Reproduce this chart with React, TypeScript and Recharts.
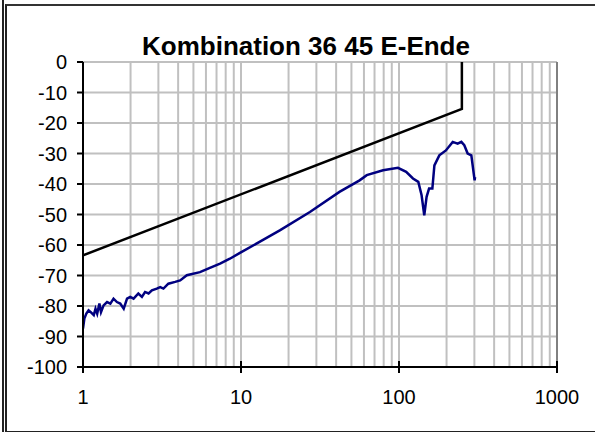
import { LineChart, Line, XAxis, YAxis, CartesianGrid, ReferenceLine } from "recharts";

const FONT = "'Liberation Sans', Arial, sans-serif";

// measured curve (blue)
const measFreq = [
  1, 1.02, 1.05, 1.085, 1.12, 1.17, 1.2, 1.23, 1.27, 1.3, 1.35, 1.42, 1.49, 1.56, 1.64, 1.72,
  1.81, 1.9, 1.99, 2.09, 2.24, 2.36, 2.47, 2.6, 2.73, 2.93, 3.08, 3.23, 3.47, 3.83, 4.12, 4.54,
  5.5, 6.3, 7.37, 8.5, 9.85, 13.1, 17.6, 27.3, 42, 56.3, 62.5, 79.3, 98.5, 111, 122.6, 132.5,
  139, 144.5, 149.5, 155, 162.6, 167.5, 180, 198, 218.8, 235, 248, 259, 272, 287, 301, 303,
];
const measLevel = [
  -87.4, -84.1, -82.5, -81.4, -82, -83, -80.9, -82.5, -79.2, -82, -79.8, -78.7, -79.2, -77.6, -78.7, -79.2,
  -80.9, -77.6, -77, -77.6, -75.9, -77, -75.4, -75.9, -74.9, -74.3, -73.8, -74.3, -72.7, -72.1, -71.6, -69.9,
  -68.9, -67.6, -66.1, -64.5, -62.6, -59, -55.2, -49.2, -42.6, -38.8, -37.1, -35.5, -34.7, -36, -38.2, -39.3,
  -43.7, -50.3, -44.2, -41.5, -41.5, -33.9, -30.6, -29, -26.2, -26.8, -26.2, -27.3, -30, -30.6, -38.8, -37.7,
];

// limit curve (black)
const limitFreq = [1, 250, 250];
const limitLevel = [-63.4, -15.4, 0];

const yTicks = [-100, -90, -80, -70, -60, -50, -40, -30, -20, -10, 0];
const decades = [1, 10, 100, 1000];
const minorTicks = [
  1, 2, 3, 4, 5, 6, 7, 8, 9,
  10, 20, 30, 40, 50, 60, 70, 80, 90,
  100, 200, 300, 400, 500, 600, 700, 800, 900, 1000,
];

const measData = measFreq.map((f, i) => ({ f, v: measLevel[i] }));
const limitData = limitFreq.map((f, i) => ({ f, v: limitLevel[i] }));

function XTick(props: any) {
  const { x, y, payload } = props;
  if (!decades.includes(payload.value)) return <g />;
  return (
    <g>
      <line x1={x} x2={x} y1={y - 6} y2={y + 6} stroke="#000" strokeWidth={2} />
      <text
        x={x}
        y={y + 30}
        textAnchor="middle"
        dominantBaseline="central"
        fontSize={20}
        fontFamily={FONT}
        fill="#000"
      >
        {payload.value}
      </text>
    </g>
  );
}

export default function App() {
  return (
    <div style={{ position: "absolute", left: 0, top: 0, width: 595, height: 432, background: "#fff" }}>
      {/* frame */}
      <div style={{ position: "absolute", left: 2, top: 0, width: 2, height: 432, background: "#222" }} />
      <div
        style={{
          position: "absolute",
          left: 5,
          top: 4,
          width: 590,
          height: 425,
          borderLeft: "2px solid #222",
          borderTop: "2px solid #333",
          borderBottom: "2px solid #222",
        }}
      />
      <div
        style={{
          position: "absolute",
          left: 0,
          top: 33,
          width: 612,
          textAlign: "center",
          fontFamily: FONT,
          fontWeight: "bold",
          fontSize: 26,
          lineHeight: "26px",
          color: "#000",
        }}
      >
        Kombination 36 45 E-Ende
      </div>
      <div style={{ position: "absolute", left: 0, top: 0 }}>
        <LineChart width={595} height={432} margin={{ top: 62, right: 38, bottom: 0, left: 0 }}>
          <CartesianGrid
            stroke="#c0c0c0"
            strokeWidth={2}
            horizontal={{ stroke: "#c0c0c0", strokeWidth: 2 }}
            vertical={{ stroke: "#c0c0c0", strokeWidth: 2 }}
          />
          <XAxis
            dataKey="f"
            type="number"
            scale="log"
            domain={[1, 1000]}
            allowDataOverflow
            ticks={minorTicks}
            interval={0}
            height={65}
            tickSize={0}
            tickMargin={0}
            tickLine={false}
            tick={<XTick />}
            axisLine={{ stroke: "#000", strokeWidth: 2 }}
          />
          <YAxis
            type="number"
            domain={[-100, 0]}
            ticks={yTicks}
            interval={0}
            width={83}
            tickSize={6}
            tickMargin={10}
            tickLine={{ stroke: "#000", strokeWidth: 2 }}
            axisLine={{ stroke: "#000", strokeWidth: 2 }}
            tick={{ fill: "#000", fontSize: 20, fontFamily: FONT }}
          />
          <ReferenceLine x={1000} stroke="#808080" strokeWidth={2} />
          <Line
            data={limitData}
            dataKey="v"
            stroke="#000"
            strokeWidth={2.5}
            dot={false}
            isAnimationActive={false}
          />
          <Line
            data={measData}
            dataKey="v"
            stroke="#000080"
            strokeWidth={2.5}
            dot={false}
            isAnimationActive={false}
          />
        </LineChart>
      </div>
    </div>
  );
}
